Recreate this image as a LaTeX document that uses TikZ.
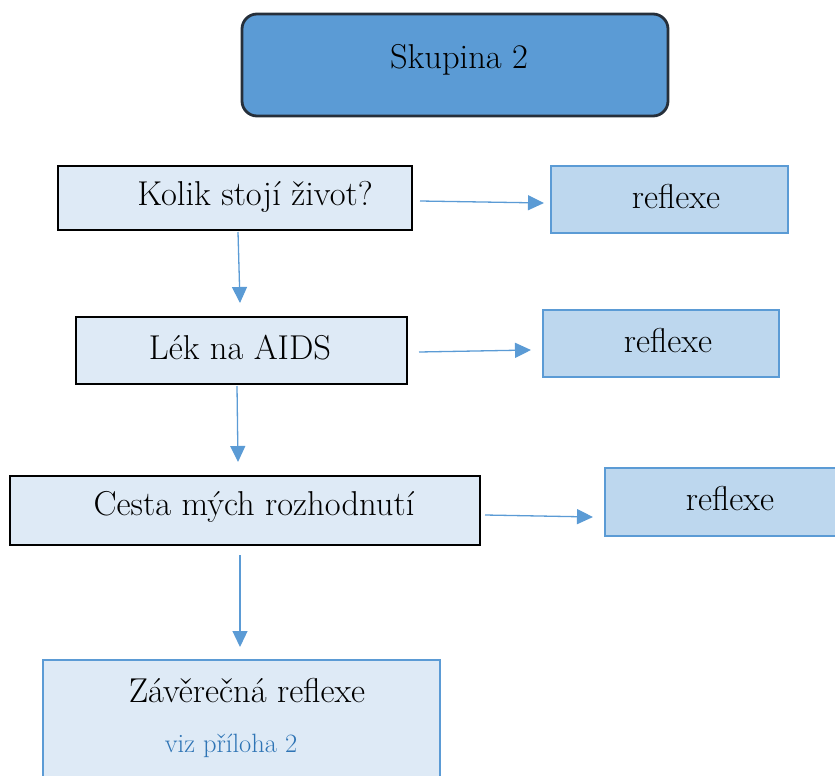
\documentclass[tikz,border=0pt]{standalone}
\usetikzlibrary{arrows.meta}
\definecolor{hdr}{HTML}{5B9BD5}
\definecolor{hdrline}{HTML}{262F3A}
\definecolor{light}{HTML}{DEEAF6}
\definecolor{mid}{HTML}{BDD7EE}
\definecolor{blueline}{HTML}{5B9BD5}
\definecolor{bluetext}{HTML}{2E74B5}
\tikzset{
  big/.style={font=\fontsize{34.5}{40}\selectfont},
  mainbox/.style={draw=black, line width=2.4pt, fill=light, rectangle},
  refbox/.style={draw=blueline, line width=2.4pt, fill=mid, rectangle},
  conn/.style={draw=blueline, line width=1.3pt, -{Triangle[length=16pt,width=15pt]}},
}
\begin{document}
\begin{tikzpicture}[x=1pt,y=-1pt]
\useasboundingbox (0,0) rectangle (835,776);
\clip (0,0) rectangle (835,776);
% header
\draw[fill=hdr, draw=hdrline, line width=2.8pt, rounded corners=15pt] (242,14) rectangle (668,116);
\node[big] (hdr) at (459,60) {Skupina 2};
% row 1
\draw[mainbox] (58,166) rectangle (412,230);
\node[big] (k1) at (255,197) {Kolik stojí život?};
\coordinate (k1r) at (420,201);
\coordinate (k1b) at (238,232);
\draw[refbox] (551,166) rectangle (788,233);
\node[big] (r1) at (676,197) {reflexe};
\coordinate (r1l) at (544,203);
% row 2
\draw[mainbox] (76,317) rectangle (407,384);
\node[big] (k2) at (240,348) {Lék na AIDS};
\coordinate (k2t) at (240,303);
\coordinate (k2r) at (419,352);
\coordinate (k2b) at (237,386);
\draw[refbox] (543,310) rectangle (779,377);
\node[big] (r2) at (668,341) {reflexe};
\coordinate (r2l) at (531,350);
% row 3
\draw[mainbox] (10,476) rectangle (480,545);
\node[big] (k3) at (254,507) {Cesta mých rozhodnutí};
\coordinate (k3t) at (238,462);
\coordinate (k3r) at (485,515);
\coordinate (k3b) at (240,555);
\draw[refbox] (605,468) rectangle (845,536);
\node[big] (r3) at (730,499) {reflexe};
\coordinate (r3l) at (593,517);
% final
\draw[draw=blueline, line width=2.4pt, fill=light] (43,660) rectangle (440,790);
\node[big] (fin) at (247,691) {Závěrečná reflexe};
\node[font=\fontsize{26.5}{30}\selectfont, text=bluetext] (viz) at (231,746) {viz příloha 2};
\coordinate (fint) at (240,647);
% connectors
\draw[conn] (k1r) -- (r1l);
\draw[conn] (k1b) -- (k2t);
\draw[conn] (k2r) -- (r2l);
\draw[conn] (k2b) -- (k3t);
\draw[conn] (k3r) -- (r3l);
\draw[conn] (k3b) -- (fint);
\end{tikzpicture}
\end{document}
